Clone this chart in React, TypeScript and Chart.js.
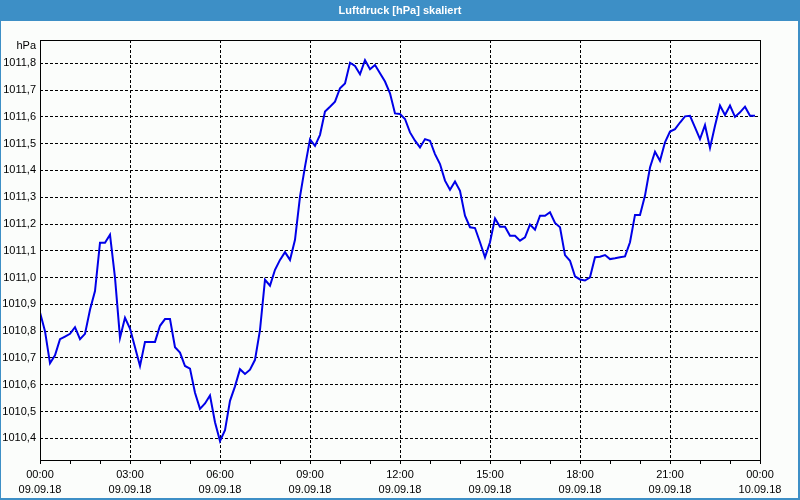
import React, { useEffect, useRef } from "react";
import { Chart, registerables } from "chart.js";

Chart.register(...registerables);

const TITLE = "Luftdruck [hPa] skaliert";
const UNIT = "hPa";
const SAMPLE_MINUTES = 10;

// pressure readings every 10 minutes from 09.09.18 00:00 to 23:50
const pressure = [
  1010.87, 1010.80, 1010.68, 1010.71, 1010.77, 1010.78, 1010.79, 1010.815, 1010.77, 1010.79,
  1010.88, 1010.95, 1011.13, 1011.13, 1011.16, 1011.00, 1010.775, 1010.85, 1010.81, 1010.74,
  1010.67, 1010.76, 1010.76, 1010.76, 1010.82, 1010.845, 1010.845, 1010.74, 1010.72, 1010.67,
  1010.66, 1010.57, 1010.51, 1010.53, 1010.56, 1010.46, 1010.39, 1010.43, 1010.54, 1010.594,
  1010.658, 1010.64, 1010.656, 1010.693, 1010.805, 1010.992, 1010.97, 1011.029, 1011.066, 1011.095,
  1011.066, 1011.141, 1011.302, 1011.414, 1011.516, 1011.492, 1011.533, 1011.62, 1011.638, 1011.657,
  1011.707, 1011.725, 1011.802, 1011.79, 1011.759, 1011.812, 1011.778, 1011.794, 1011.763, 1011.732,
  1011.688, 1011.613, 1011.611, 1011.592, 1011.542, 1011.511, 1011.486, 1011.517, 1011.511, 1011.461,
  1011.424, 1011.362, 1011.328, 1011.359, 1011.324, 1011.231, 1011.188, 1011.185, 1011.132, 1011.076,
  1011.132, 1011.221, 1011.19, 1011.19, 1011.156, 1011.156, 1011.138, 1011.15, 1011.198, 1011.179,
  1011.231, 1011.231, 1011.244, 1011.204, 1011.188, 1011.084, 1011.063, 1011.005, 1010.993, 1010.989,
  1011.001, 1011.076, 1011.078, 1011.084, 1011.069, 1011.072, 1011.076, 1011.079, 1011.132, 1011.234,
  1011.234, 1011.306, 1011.411, 1011.47, 1011.436, 1011.505, 1011.545, 1011.554, 1011.579, 1011.602,
  1011.604, 1011.561, 1011.517, 1011.569, 1011.484, 1011.567, 1011.642, 1011.607, 1011.642, 1011.60,
  1011.617, 1011.638, 1011.604, 1011.604,
];

const xTickMinutes = [0, 180, 360, 540, 720, 900, 1080, 1260, 1440];
const xTickTimes = ["00:00", "03:00", "06:00", "09:00", "12:00", "15:00", "18:00", "21:00", "00:00"];
const xTickDates = ["09.09.18", "09.09.18", "09.09.18", "09.09.18", "09.09.18", "09.09.18", "09.09.18", "09.09.18", "10.09.18"];
const xMinorTickMinutes = [
  0, 60, 120, 180, 240, 300, 360, 420, 480, 540, 600, 660, 720,
  780, 840, 900, 960, 1020, 1080, 1140, 1200, 1260, 1320, 1380, 1440,
];
const yTickValues = [
  1010.4, 1010.5, 1010.6, 1010.7, 1010.8, 1010.9, 1011.0,
  1011.1, 1011.2, 1011.3, 1011.4, 1011.5, 1011.6, 1011.7, 1011.8,
];
const Y_MIN = 1010.319;
const Y_MAX = 1011.887;

const FONT = "'Liberation Sans', Arial, sans-serif";
const BLUE_BAR = "#3d8fc6";
const BG = "#fbfdfb";

export default function App() {
  const canvasRef = useRef<HTMLCanvasElement | null>(null);

  useEffect(() => {
    const canvas = canvasRef.current;
    if (!canvas) return;

    const framePlugin = {
      id: "frame",
      beforeDraw(chart: any) {
        const ctx = chart.ctx;
        ctx.save();
        ctx.fillStyle = BG;
        ctx.fillRect(0, 0, chart.width, chart.height);
        ctx.fillStyle = BLUE_BAR;
        ctx.fillRect(0, 0, chart.width, 21);
        ctx.fillStyle = "#ffffff";
        ctx.font = "bold 11px " + FONT;
        ctx.textAlign = "center";
        ctx.textBaseline = "middle";
        ctx.fillText(TITLE, chart.width / 2, 10.5);
        ctx.restore();
      },
      afterDraw(chart: any) {
        const ctx = chart.ctx;
        const a = chart.chartArea;
        ctx.save();
        ctx.strokeStyle = "#000";
        ctx.lineWidth = 1;
        ctx.setLineDash([]);
        ctx.strokeRect(Math.round(a.left) + 0.5, Math.round(a.top) + 0.5,
          Math.round(a.right - a.left), Math.round(a.bottom - a.top));
        ctx.fillStyle = "#000";
        ctx.font = "11px " + FONT;
        ctx.textAlign = "right";
        ctx.textBaseline = "middle";
        ctx.fillText(UNIT, a.left - 4, a.top + 6);
        ctx.fillStyle = BLUE_BAR;
        ctx.fillRect(0, 0, 1, chart.height);
        ctx.fillRect(chart.width - 2, 0, 2, chart.height);
        ctx.fillRect(0, chart.height - 2, chart.width, 2);
        ctx.restore();
      },
    };

    const chart = new Chart(canvas, {
      type: "line",
      data: {
        datasets: [
          {
            label: TITLE,
            data: pressure.map((v, i) => ({ x: i * SAMPLE_MINUTES, y: v })),
            borderColor: "#0000e8",
            borderWidth: 2,
            pointRadius: 0,
            tension: 0,
            fill: false,
          },
        ],
      },
      options: {
        responsive: false,
        animation: false,
        layout: { padding: { left: 0, right: 40, top: 40, bottom: 0 } },
        plugins: {
          legend: { display: false },
          tooltip: { enabled: false },
          title: { display: false },
        },
        scales: {
          x: {
            type: "linear",
            min: 0,
            max: 1440,
            afterBuildTicks: (s: any) => {
              s.ticks = xMinorTickMinutes.map((v) => ({ value: v }));
            },
            afterFit: (s: any) => {
              s.height = 40;
            },
            ticks: {
              autoSkip: false,
              maxRotation: 0,
              minRotation: 0,
              padding: 3.5,
              color: "#000",
              font: { family: FONT, size: 11, lineHeight: "15px" as any },
              callback: (value: any) => {
                const idx = xTickMinutes.indexOf(Number(value));
                return idx >= 0 ? [xTickTimes[idx], xTickDates[idx]] : "";
              },
            },
            grid: {
              color: (c: any) =>
                c.tick && xTickMinutes.indexOf(c.tick.value) >= 0 ? "#000" : "rgba(0,0,0,0)",
              tickColor: "#000",
              tickLength: 4,
              lineWidth: 1,
              drawTicks: true,
            },
            border: { display: false, dash: [3, 2] },
          },
          y: {
            type: "linear",
            min: Y_MIN,
            max: Y_MAX,
            afterBuildTicks: (s: any) => {
              s.ticks = yTickValues.map((v) => ({ value: v }));
            },
            afterFit: (s: any) => {
              s.width = 40;
            },
            ticks: {
              padding: 4,
              color: "#000",
              font: { family: FONT, size: 11 },
              callback: (value: any) => Number(value).toFixed(1).replace(".", ","),
            },
            grid: {
              color: "#000",
              lineWidth: 1,
              drawTicks: false,
            },
            border: { display: false, dash: [3, 2] },
          },
        },
      },
      plugins: [framePlugin],
    } as any);

    return () => {
      chart.destroy();
    };
  }, []);

  return (
    <div style={{ position: "absolute", left: 0, top: 0, width: 800, height: 500 }}>
      <canvas ref={canvasRef} width={800} height={500} style={{ display: "block" }} />
    </div>
  );
}
